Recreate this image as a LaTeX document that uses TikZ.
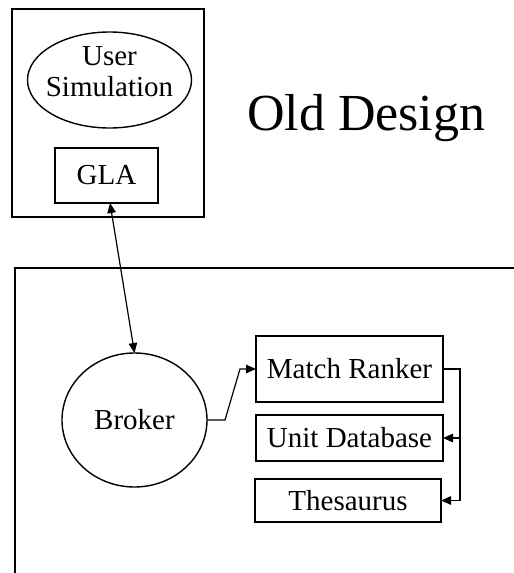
\documentclass[tikz,border=0pt]{standalone}
\usepackage{fontspec}
\setmainfont{Liberation Serif}
\usetikzlibrary{arrows.meta,shapes.geometric}
\begin{document}
\begin{tikzpicture}[x=1pt,y=-1pt,
  line width=1.4pt,
  every node/.style={inner sep=0pt,outer sep=0pt,font=\fontsize{29}{31}\selectfont},
  boxnode/.style={draw,rectangle,align=center},
  ovalnode/.style={draw,ellipse,align=center},
  conn/.style={line width=1.2pt},
  tip/.style={conn,-{Triangle[length=10pt,width=8.5pt]}},
  dtip/.style={conn,{Triangle[length=10pt,width=8.5pt]}-{Triangle[length=10pt,width=8.5pt]}}
]
\useasboundingbox (0,0) rectangle (514,573);
% frames
\draw (12,9) rectangle (204,217);
\draw (514,268) -- (15,268) -- (15,573);
% nodes
\node[ovalnode,minimum width=164pt,minimum height=96pt] (usr) at (109.5,80) {};
\node[align=center] (usrtxt) at (109.5,72) {User\\Simulation};
\node[boxnode,minimum width=103pt,minimum height=55pt] (gla) at (106.5,175.5) {GLA};
\node[anchor=base west,font=\fontsize{52}{56}\selectfont] (title) at (247,130) {Old Design};
\node[ovalnode,minimum width=145pt,minimum height=134pt] (brk) at (134.5,420) {Broker};
\node[boxnode,minimum width=187pt,minimum height=66pt] (mr) at (349.5,369) {Match Ranker};
\node[boxnode,minimum width=187pt,minimum height=46pt] (ud) at (349.5,438) {Unit Database};
\node[boxnode,minimum width=186pt,minimum height=43pt] (th) at (348,500.5) {Thesaurus};
% connectors
\draw[dtip] ([xshift=3.5pt]gla.south) -- (brk.north);
\draw[tip] (brk.east) -- ++(18,0) -- ([xshift=-16pt]mr.west) -- (mr.west);
\coordinate (rr) at ([xshift=17pt]mr.east);
\draw[tip] (mr.east) -- (rr) |- (th.east);
\draw[tip] (rr |- ud.east) -- (ud.east);
\end{tikzpicture}
\end{document}
